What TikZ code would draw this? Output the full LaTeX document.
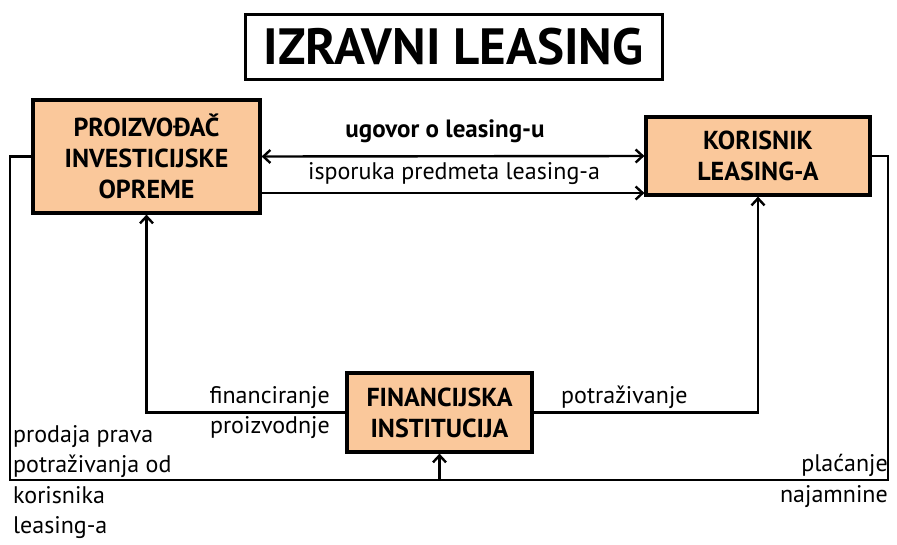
\documentclass[tikz,border=0pt]{standalone}
\usepackage{fontspec}
\setmainfont{PT Sans}
\usetikzlibrary{arrows.meta}
\definecolor{kutija}{RGB}{250,200,155}
\tikzset{
shema/.style = { x = 1pt, y = -1pt, line width = 2.4pt, > = {Straight Barb[length=7pt,width=13pt]} },
sudionik/.style = { draw, line width = 3.2pt, fill = kutija, align = center,
  font = \bfseries\fontsize{26}{31}\selectfont },
opis/.style = { font = \fontsize{24}{30.5}\selectfont, inner sep = 0pt },
naslov/.style = { draw, line width = 3pt, minimum width = 417pt, minimum height = 65pt,
  font = \bfseries\fontsize{51}{55}\selectfont }
}
\begin{document}
\begin{tikzpicture}[shema]
\useasboundingbox (0,0) rectangle (897,544);
\node[naslov] (naslov) at (453.5,46.5) {IZRAVNI LEASING};
% sudionici
\node[sudionik, minimum width=227pt, minimum height=113pt] (proizvodac) at (146.5,156.5)
  {PROIZVOĐAČ\\INVESTICIJSKE\\OPREME};
\node[sudionik, minimum width=224pt, minimum height=78pt] (korisnik) at (758,156)
  {KORISNIK\\LEASING-A};
\node[sudionik, minimum width=185pt, minimum height=79pt] (institucija) at (439.5,412.5)
  {FINANCIJSKA\\INSTITUCIJA};
% vanjska petlja
\coordinate (dl) at (10,480);
\coordinate (dd) at (888,480);
\draw (proizvodac.west) -| (dl) -- (dd) |- (korisnik.east);
\draw[->] (institucija.south |- dl) -- (institucija.south);
% veze
\draw[<->] (proizvodac.east) -- (korisnik.west);
\draw[->] (proizvodac.east |- 0,193) -- (korisnik.west |- 0,193);
\draw[->] (institucija.west) -| (proizvodac.south);
\draw[->] (institucija.east) -| (korisnik.south);
% natpisi
\node[opis, font=\bfseries\fontsize{25}{30}\selectfont] (ugovor) at (445,131) {ugovor o leasing-u};
\node[opis] (isporuka) at (454,174) {isporuka predmeta leasing-a};
\node[opis, anchor=east, align=right] (financiranje) at (331,412.5) {financiranje\\proizvodnje};
\node[opis, anchor=west] (potrazivanje) at (560,397) {potraživanje};
\node[opis, anchor=west, align=left] (prodaja) at (12,482)
  {prodaja prava\\potraživanja od\\korisnika\\leasing-a};
\node[opis, anchor=east, align=right] (placanje) at (889,481) {plaćanje\\najamnine};
\end{tikzpicture}
\end{document}
